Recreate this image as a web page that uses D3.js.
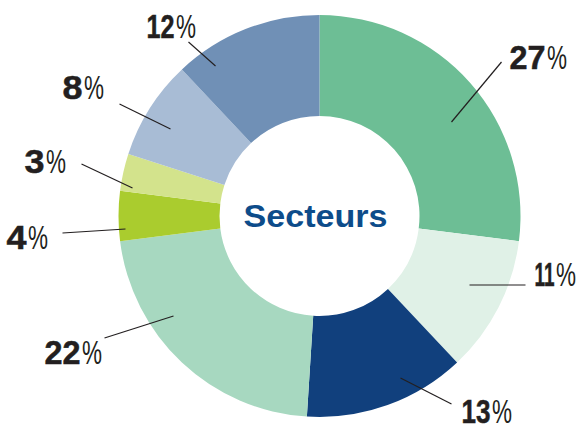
<!DOCTYPE html>
<html><head><meta charset="utf-8">
<script src="https://cdn.jsdelivr.net/npm/d3@7"></script>
<style>html,body{margin:0;padding:0;background:#fff;}svg{display:block;}</style>
</head><body>
<svg id="c" width="579" height="428"></svg>
<script>
// Data
const categories = ["A","B","C","D","E","F","G","H"];
const values = [27, 11, 13, 22, 4, 3, 8, 12];
const labels = ["27","11","13","22","4","3","8","12"];
const colors = ["#6dbe95","#e0f1e7","#11407d","#a7d8c0","#aacc2e","#d3e38c","#a8bcd5","#7090b6"];
const centerTitle = "Secteurs";

// Layout (annotation placement, relative to centre)
const leaderInner = [[132,-94],[150,69],[81,162],[-146,100],[-194,13],[-187,-28],[-149,-87],[-104,-150]];
const leaderOuter = [[182,-154],[206,69],[132,188],[-215,122],[-257,17],[-238,-52],[-200,-112],[-131,-174]];
const labelPos = [[190,-147,36],[215,70,20],[142,207,29],[-275,148,36],[-313,33,20],[-295,-43,20],[-257,-117,20],[-173,-178,28]];

const cx = 319.5, cy = 216, R = 201, r = 100;
const pctW = 20, gap = 1.5;
const svg = d3.select("#c");
const g = svg.append("g").attr("transform", `translate(${cx},${cy})`);

const pie = d3.pie().sort(null).value(d => d)(values);
const arc = d3.arc().innerRadius(r).outerRadius(R);

g.selectAll("path.slice").data(pie).join("path")
  .attr("class","slice")
  .attr("d", arc)
  .attr("fill", (d,i) => colors[i]);

g.selectAll("line.leader").data(pie).join("line")
  .attr("class","leader")
  .attr("x1", (d,i) => leaderInner[i][0]).attr("y1", (d,i) => leaderInner[i][1])
  .attr("x2", (d,i) => leaderOuter[i][0]).attr("y2", (d,i) => leaderOuter[i][1])
  .attr("stroke", "#231f20").attr("stroke-width", 1.2);

const font = "'Liberation Sans Narrow','Liberation Sans',Arial,sans-serif";
g.selectAll("text.num").data(pie).join("text")
  .attr("class","num")
  .attr("x", (d,i) => labelPos[i][0]).attr("y", (d,i) => labelPos[i][1])
  .attr("textLength", (d,i) => labelPos[i][2])
  .attr("lengthAdjust", "spacingAndGlyphs")
  .attr("font-family", font)
  .attr("font-weight", "bold")
  .attr("font-size", 33)
  .attr("fill", "#231f20")
  .attr("stroke", "#231f20").attr("stroke-width", 0.5)
  .text((d,i) => labels[i]);

g.selectAll("text.pct").data(pie).join("text")
  .attr("class","pct")
  .attr("x", (d,i) => labelPos[i][0] + labelPos[i][2] + gap).attr("y", (d,i) => labelPos[i][1])
  .attr("textLength", pctW)
  .attr("lengthAdjust", "spacingAndGlyphs")
  .attr("font-family", font)
  .attr("font-weight", "normal")
  .attr("font-size", 33)
  .attr("fill", "#231f20")
  .text("%");

g.append("text")
  .attr("x", -76).attr("y", 11)
  .attr("textLength", 144).attr("lengthAdjust", "spacingAndGlyphs")
  .attr("font-family", "'Liberation Sans',Arial,sans-serif")
  .attr("font-weight", "bold")
  .attr("font-size", 31)
  .attr("fill", "#0d4c8a")
  .text(centerTitle);
</script>
</body></html>
